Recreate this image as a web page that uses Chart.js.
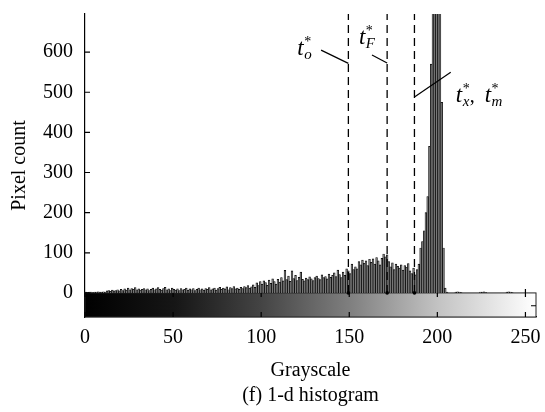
<!DOCTYPE html>
<html lang="en">
<head>
<meta charset="UTF-8">
<title>1-d histogram</title>
<style>
    html, body {
        margin: 0;
        padding: 0;
        background: #fff;
    }

    #wrap {
        width: 545px;
        height: 412px;
    }
</style>
</head>
<body>
<div id="wrap"><canvas id="hist" width="545" height="412"></canvas></div>

<script src="https://cdn.jsdelivr.net/npm/chart.js"></script>
<script>
    // pixel count per gray level (bins 0..255)
    var counts = [
        2, 1, 2, 2, 1, 2, 2, 3, 2, 2,
        3, 2, 5, 6, 4, 7, 5, 6, 8, 5,
        9, 6, 10, 7, 12, 8, 11, 9, 13, 8,
        10, 7, 9, 11, 8, 10, 6, 9, 12, 8,
        10, 13, 9, 7, 11, 14, 8, 10, 6, 12,
        9, 7, 10, 6, 11, 8, 9, 12, 7, 10,
        8, 11, 6, 9, 12, 8, 10, 7, 11, 9,
        13, 8, 10, 12, 7, 11, 14, 9, 12, 10,
        15, 8, 13, 11, 16, 10, 12, 9, 14, 11,
        16, 13, 18, 12, 15, 20, 14, 25, 18, 28,
        22, 30, 26, 19, 32, 24, 35, 28, 22, 34,
        27, 38, 30, 56, 33, 42, 29, 55, 36, 44,
        31, 39, 52, 34, 30, 37, 33, 40, 35, 31,
        38, 42, 36, 33, 45, 38, 41, 35, 47, 39,
        44, 50, 41, 57, 46, 38, 52, 44, 60, 55,
        48, 72, 58, 65, 60, 78, 70, 82, 74, 80,
        68, 84, 76, 85, 72, 88, 80, 70, 86, 97,
        90, 95, 78, 65, 75, 58, 72, 66, 62, 70,
        57, 68, 64, 73, 55, 48, 62, 45, 58, 72,
        112, 128, 155, 200, 240, 365, 570, 900, 1150, 1300,
        1100, 800, 475, 112, 12, 2, 0, 0, 0, 0,
        2, 3, 2, 1, 0, 0, 0, 0, 0, 0,
        0, 0, 0, 0, 2, 2, 3, 1, 0, 0,
        0, 0, 0, 0, 0, 0, 0, 0, 0, 2,
        3, 2, 1, 0, 0, 0, 0, 0, 0, 0,
        0, 0, 0, 0, 0, 0
    ];
    var xTicks = [0, 50, 100, 150, 200, 250];
    var yTicks = [0, 100, 200, 300, 400, 500, 600];

    // threshold positions (gray level) and the leader lines to their labels
    var thresholds = [149.5, 171.5, 187];
    var leaders = [
        [{x: 134, y: 605}, {x: 149.5, y: 572}],
        [{x: 162.9, y: 593}, {x: 171.5, y: 573}],
        [{x: 207.6, y: 550}, {x: 187, y: 488}]
    ];
    var labelAt = [{x: 120.5, y: 593}, {x: 155.5, y: 620}, {x: 210.5, y: 476}];
    var labelText = [
        [{t: 't', sub: 'o'}],
        [{t: 't', sub: 'F'}],
        [{t: 't', sub: 'x'}, ',  ', {t: 't', sub: 'm'}]
    ];

    var serif = "'Liberation Serif', 'Times New Roman', serif";
    var axisFont = {family: serif, size: 20, weight: 'normal'};

    var datasets = [{
        type: 'bar',
        data: counts.map(function (v, i) { return {x: i + 0.5, y: v}; }),
        backgroundColor: '#7a7a7a',
        borderColor: '#000',
        borderWidth: 0.7,
        barPercentage: 1,
        categoryPercentage: 1,
        order: 2
    }];
    thresholds.forEach(function (t) {
        datasets.push({
            type: 'line',
            data: [{x: t, y: 0}, {x: t, y: 695}],
            borderColor: '#000',
            borderWidth: 1.3,
            borderDash: [8, 5],
            pointRadius: [1.8, 0],
            pointBackgroundColor: '#000',
            pointBorderWidth: 0,
            order: 1
        });
    });
    leaders.forEach(function (seg) {
        datasets.push({
            type: 'line',
            data: seg,
            borderColor: '#000',
            borderWidth: 1.2,
            pointRadius: 0,
            order: 1
        });
    });

    // black-to-white strip under the zero line
    var grayStrip = {
        id: 'grayStrip',
        beforeDatasetsDraw: function (chart) {
            var ctx = chart.ctx, x = chart.scales.x, y = chart.scales.y;
            var x0 = x.getPixelForValue(0), x1 = x.getPixelForValue(256);
            var y0 = y.getPixelForValue(0), y1 = chart.chartArea.bottom;
            var g = ctx.createLinearGradient(x0, 0, x1, 0);
            g.addColorStop(0, '#000');
            g.addColorStop(0.2, '#161616');
            g.addColorStop(0.39, '#444');
            g.addColorStop(0.59, '#808080');
            g.addColorStop(0.78, '#c2c2c2');
            g.addColorStop(1, '#fff');
            ctx.save();
            ctx.fillStyle = g;
            ctx.fillRect(x0, y0, x1 - x0, y1 - y0);
            ctx.strokeStyle = '#222';
            ctx.lineWidth = 1;
            ctx.strokeRect(x0, y0, x1 - x0, y1 - y0);
            ctx.restore();
        }
    };

    // inward tick marks and the threshold labels
    var marks = {
        id: 'marks',
        afterDraw: function (chart) {
            var ctx = chart.ctx, x = chart.scales.x, y = chart.scales.y;
            var area = chart.chartArea;
            var y0 = y.getPixelForValue(0);
            ctx.save();
            ctx.strokeStyle = '#000';
            ctx.lineWidth = 1.2;
            ctx.beginPath();
            yTicks.forEach(function (v) {
                var py = y.getPixelForValue(v);
                ctx.moveTo(area.left, py);
                ctx.lineTo(area.left + 5, py);
            });
            xTicks.forEach(function (v) {
                var px = x.getPixelForValue(v);
                ctx.moveTo(px, area.bottom);
                ctx.lineTo(px, area.bottom - 5);
                ctx.moveTo(px, y0 - (v === 250 ? 4 : 0));
                ctx.lineTo(px, y0 + 4);
            });
            var xr = x.getPixelForValue(256), ym = y.getPixelForValue(-32);
            ctx.moveTo(xr, ym);
            ctx.lineTo(xr - 5, ym);
            ctx.stroke();

            ctx.fillStyle = '#000';
            ctx.textBaseline = 'alphabetic';
            labelText.forEach(function (parts, i) {
                var px = x.getPixelForValue(labelAt[i].x);
                var py = y.getPixelForValue(labelAt[i].y);
                parts.forEach(function (p) {
                    if (typeof p === 'string') {
                        ctx.font = '20px ' + serif;
                        ctx.fillText(p, px, py);
                        px += ctx.measureText(p).width;
                        return;
                    }
                    ctx.font = 'italic 23px ' + serif;
                    ctx.fillText(p.t, px, py);
                    px += ctx.measureText(p.t).width + 0.5;
                    ctx.font = 'italic 15px ' + serif;
                    ctx.fillText(p.sub, px, py + 4);
                    var w = ctx.measureText(p.sub).width;
                    ctx.font = '14px ' + serif;
                    ctx.fillText('*', px, py - 9);
                    px += Math.max(w, ctx.measureText('*').width);
                });
            });
            ctx.restore();
        }
    };

    var chart = new Chart(document.getElementById('hist'), {
        type: 'bar',
        data: {datasets: datasets},
        plugins: [grayStrip, marks],
        options: {
            responsive: false,
            animation: false,
            layout: {padding: {left: 0, right: 9, top: 14, bottom: 0}},
            plugins: {
                legend: {display: false},
                tooltip: {enabled: false},
                title: {
                    display: true,
                    text: '(f) 1-d histogram',
                    position: 'bottom',
                    fullSize: false,
                    color: '#000',
                    font: axisFont,
                    padding: {top: 0, bottom: 4}
                }
            },
            scales: {
                x: {
                    type: 'linear',
                    min: 0,
                    max: 256,
                    offset: false,
                    afterBuildTicks: function (axis) {
                        axis.ticks = xTicks.map(function (v) { return {value: v}; });
                    },
                    afterFit: function (scale) {
                        scale.height = 67;
                        scale.paddingLeft = 0;
                        scale.paddingRight = 0;
                    },
                    grid: {display: false, drawTicks: false},
                    border: {display: true, color: '#000', width: 1.2},
                    ticks: {color: '#000', font: axisFont, padding: 9, maxRotation: 0, autoSkip: false},
                    title: {display: true, text: 'Grayscale', color: '#000', font: axisFont, padding: {top: 0, bottom: 1}}
                },
                y: {
                    min: -60,
                    max: 695,
                    afterBuildTicks: function (axis) {
                        axis.ticks = yTicks.map(function (v) { return {value: v}; });
                    },
                    afterFit: function (scale) {
                        scale.width = 85;
                        scale.paddingTop = 0;
                        scale.paddingBottom = 0;
                    },
                    grid: {display: false, drawTicks: false},
                    border: {display: true, color: '#000', width: 1.2},
                    ticks: {color: '#000', font: axisFont, padding: 12},
                    title: {display: true, text: 'Pixel count', color: '#000', font: axisFont, padding: {top: 8, bottom: 0}}
                }
            }
        }
    });
</script>
</body>
</html>
